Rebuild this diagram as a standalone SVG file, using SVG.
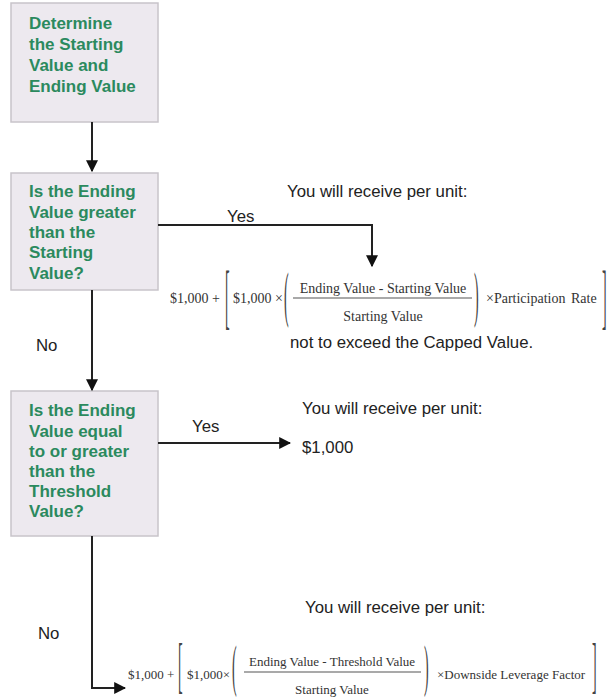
<svg xmlns="http://www.w3.org/2000/svg" width="609" height="700" viewBox="0 0 609 700">
<style>
.box{fill:#ede9ef;stroke:#c8c4ca;stroke-width:1.5}
.bt{font-family:"Liberation Sans",Arial,sans-serif;font-weight:bold;font-size:17px;fill:#2b8a5e}
.lbl{font-family:"Liberation Sans",Arial,sans-serif;font-size:16.8px;fill:#222}
.f{font-family:"Liberation Serif","Times New Roman",serif;font-size:14px;fill:#333}
.f2{font-family:"Liberation Serif","Times New Roman",serif;font-size:13px;fill:#333}
.big{font-family:"Liberation Serif","Times New Roman",serif;font-size:14px;fill:#444}
.ln{fill:none;stroke:#222;stroke-width:2}
.fl{stroke:#555;stroke-width:1.2}
</style>
<defs>
<marker id="ah" viewBox="0 0 10 10" refX="9" refY="5" markerWidth="12" markerHeight="12" markerUnits="userSpaceOnUse" orient="auto">
<path d="M0,0 L10,5 L0,10 z" fill="#111"/>
</marker>
</defs>
<rect width="609" height="700" fill="#fff"/>

<g id="node-start">
<rect class="box" x="11" y="3" width="147" height="119"/>
<text class="bt" x="29" y="29">Determine</text>
<text class="bt" x="29" y="50">the Starting</text>
<text class="bt" x="29" y="71">Value and</text>
<text class="bt" x="29" y="92">Ending Value</text>
</g>

<g id="node-decision1">
<rect class="box" x="11" y="173" width="147" height="117"/>
<text class="bt" x="29" y="197">Is the Ending</text>
<text class="bt" x="29" y="218">Value greater</text>
<text class="bt" x="29" y="238">than the</text>
<text class="bt" x="29" y="258">Starting</text>
<text class="bt" x="29" y="279">Value?</text>
</g>

<g id="node-decision2">
<rect class="box" x="11" y="391" width="147" height="145"/>
<text class="bt" x="29" y="416">Is the Ending</text>
<text class="bt" x="29" y="437">Value equal</text>
<text class="bt" x="29" y="457">to or greater</text>
<text class="bt" x="29" y="477">than the</text>
<text class="bt" x="29" y="497">Threshold</text>
<text class="bt" x="29" y="517">Value?</text>
</g>

<g id="connectors">
<path class="ln" d="M92,122 V171" marker-end="url(#ah)"/>
<path class="ln" d="M158,225 H372 V266" marker-end="url(#ah)"/>
<path class="ln" d="M92,290 V390" marker-end="url(#ah)"/>
<path class="ln" d="M158,443 H290" marker-end="url(#ah)"/>
<path class="ln" d="M92,536 V688 H125" marker-end="url(#ah)"/>
<text class="lbl" x="227" y="222">Yes</text>
<text class="lbl" x="36" y="351">No</text>
<text class="lbl" x="192" y="432">Yes</text>
<text class="lbl" x="38" y="639">No</text>
</g>

<g id="result-1">
<text class="lbl" x="287" y="197">You will receive per unit:</text>
<text class="f" x="170" y="303">$1,000 +</text>
<text class="big" transform="translate(225,319.5) scale(1,5.2)">[</text>
<text class="f" x="233" y="303">$1,000 ×</text>
<text class="big" transform="translate(284,315) scale(1,4.4)">(</text>
<text class="f" x="383" y="293" text-anchor="middle">Ending Value - Starting Value</text>
<line class="fl" x1="293" y1="298" x2="472" y2="298"/>
<text class="f" x="383" y="321" text-anchor="middle">Starting Value</text>
<text class="big" transform="translate(474,315) scale(1,4.4)">)</text>
<text class="f" x="486" y="303" word-spacing="2">×Participation Rate</text>
<text class="big" transform="translate(602,319.5) scale(1,5.2)">]</text>
<text class="lbl" x="290" y="348">not to exceed the Capped Value.</text>
</g>

<g id="result-2">
<text class="lbl" x="302" y="414">You will receive per unit:</text>
<text class="lbl" x="302" y="453">$1,000</text>
</g>

<g id="result-3">
<text class="lbl" x="305" y="613">You will receive per unit:</text>
<text class="f2" x="128" y="679">$1,000 +</text>
<text class="big" transform="translate(178,686) scale(1,4.4)">[</text>
<text class="f2" x="187" y="679">$1,000×</text>
<text class="big" transform="translate(232,685) scale(1,4.1)">(</text>
<text class="f2" x="332" y="666" text-anchor="middle">Ending Value - Threshold Value</text>
<line class="fl" x1="244" y1="672" x2="421" y2="672"/>
<text class="f2" x="332" y="694" text-anchor="middle">Starting Value</text>
<text class="big" transform="translate(424,685) scale(1,4.1)">)</text>
<text class="f2" x="437" y="679">×Downside Leverage Factor</text>
<text class="big" transform="translate(592,686) scale(1,4.4)">]</text>
</g>
</svg>
